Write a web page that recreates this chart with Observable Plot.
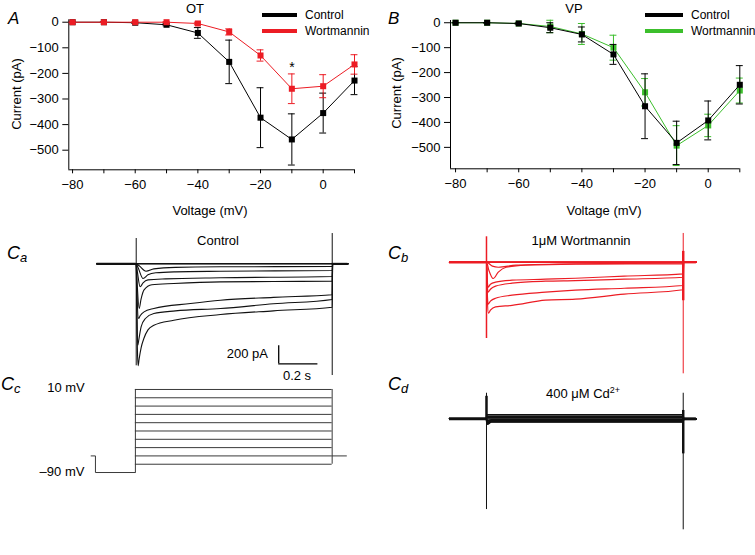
<!DOCTYPE html>
<html><head><meta charset="utf-8">
<script src="https://cdn.jsdelivr.net/npm/d3@7"></script>
<script src="https://cdn.jsdelivr.net/npm/@observablehq/plot@0.6"></script>
<style>
body{margin:0;background:#fff;}
#fig{position:relative;width:755px;height:555px;overflow:hidden;background:#fff;font-family:"Liberation Sans",Arial,Helvetica,sans-serif;color:#000;}
.panel{position:absolute;}
.panel svg{display:block;}
.iv g[aria-label$="tick label"]{font-size:13px;font-family:"Liberation Sans",Arial,Helvetica,sans-serif;}
.lbl{position:absolute;white-space:nowrap;line-height:1;}
.bar{position:absolute;}
</style></head><body><div id="fig"></div><script>
// ---------- I–V data (pA) ----------
const voltages = [-80,-70,-60,-50,-40,-30,-20,-10,0,10];
const xTickLabels = [-80,-60,-40,-20,0];
const yTicks = [0,-100,-200,-300,-400,-500];
const otControl    = [0,0,-2,-10,-42,-155,-373,-458,-355,-228];
const otControlErr = [0,0,2,4,21,85,117,100,78,55];
const otWort       = [0,0,0,0,-5,-38,-130,-260,-250,-165];
const otWortErr    = [0,0,0,2,5,12,22,58,45,38];
const otStar       = [-10];
const vpControl    = [0,0,-3,-20,-47,-127,-335,-482,-392,-249];
const vpControlErr = [0,0,2,20,30,40,130,87,78,77];
const vpWort       = [0,0,-3,-15,-45,-100,-279,-493,-412,-272];
const vpWortErr    = [0,0,2,25,42,50,55,80,45,50];

// ---------- current traces (t in ms, I in pA) ----------
const caT = [
  [0,1000],[0,1000],[0,1000],
  [0,15,50,90,200,430,1000],
  [0,10,35,60,100,200,430,1000],
  [0,6,20,35,60,150,430,1000],
  [0,5,15,25,40,80,192,430,700,1000],
  [0,4,12,20,40,90,277,430,700,1000],
  [0,3,8,14,25,47,90,200,430,700,1000],
  [0,3,6,10,15,25,39,60,90,192,430,700,1000]
];
const caI = [
  [0,0],[0,0],[0,0],
  [0,-22,-82,-56,-39,-33,-30],
  [0,-44,-163,-122,-100,-89,-82,-74],
  [0,-89,-255,-211,-178,-167,-155,-141],
  [0,-222,-496,-389,-289,-233,-219,-200,-196,-193],
  [0,-333,-607,-577,-533,-496,-441,-404,-372,-344],
  [0,-500,-904,-833,-699,-607,-552,-522,-496,-444,-396],
  [0,-444,-944,-1132,-1055,-932,-829,-733,-682,-626,-563,-522,-482]
];
const caSpikeOn = [281,-1132];
const caSpikeOff = [336,-1240];
const caScaleBar = {t:727, i:-1110, dt:200, di:200};

const cbT = [
  [0,1000],[0,1000],[0,1000],[0,1000],
  [0,30,60,150,452,1000],
  [0,12,34,60,100,200,452,1000],
  [0,4,8,20,46,130,300,452,700,1000],
  [0,4,8,20,46,130,300,452,700,1000],
  [0,4,8,20,46,130,300,452,700,1000],
  [0,4,10,20,46,130,300,452,700,1000]
];
const cbI = [
  [0,0],[0,0],[0,0],[0,0],
  [0,-44,-56,-33,-17,-11],
  [0,-89,-181,-111,-56,-33,-22,-18],
  [0,-200,-278,-244,-222,-200,-189,-178,-155,-129],
  [0,-244,-333,-300,-266,-233,-211,-205,-189,-167],
  [0,-333,-466,-433,-400,-366,-333,-311,-289,-259],
  [0,-389,-566,-533,-495,-480,-422,-411,-355,-306]
];
const cbSpikeOn = [282,-847];
const cbSpikeOff = [319,-1239];
const cbSpikeOffThick = [120,-428];

const cdT = [0,1,5,25,1000];
const cdI = [
  [0,45,45,45,45],[0,28,28,28,28],[0,12,12,12,12],[0,0,0,0,0],
  [0,-10,-15,-10,-10],[0,-17,-25,-17,-17],[0,-22,-35,-22,-22],
  [0,-28,-45,-28,-28],[0,-33,-55,-33,-33],[0,-38,-60,-36,-36]
];
const cdSpikeOn = [284,-1007];
const cdSpikeOnThick = [250,0];
const cdSpikeOff = [284,-1232];
const cdSpikeOffThick = [93,-389];

// ---------- voltage protocol (mV, ms) ----------
const protocolLevels = [-80,-70,-60,-50,-40,-30,-20,-10,0,10];
const holdingMv = -70, prepulseMv = -90;
const protoStart = -225, prepulseOn = -203, stepOn = 0, stepOff = 1000, protoEnd = 1077;

// ---------- helpers ----------
const FONT = '"Liberation Sans", Arial, Helvetica, sans-serif';
const RED = "#ec1c24", GREEN = "#3cbf2c", BLACK = "#000";
const fig = document.getElementById("fig");
const fmt = d3.format("d");

function addPanel(svg, left, topPx, w, h, cls = ""){
  const d = document.createElement("div");
  d.className = "panel " + cls;
  Object.assign(d.style, {left:left+"px", top:topPx+"px", width:w+"px", height:h+"px"});
  d.appendChild(svg); fig.appendChild(d);
}
function label(html, x, y, o = {}){
  const {size = 13, anchor = "middle", italic = false, rotate = 0} = o;
  const d = document.createElement("div");
  d.className = "lbl"; d.innerHTML = html;
  d.style.fontSize = size + "px";
  if (italic) d.style.fontStyle = "italic";
  d.style.left = x + "px"; d.style.top = y + "px";
  const tx = anchor === "middle" ? "-50%" : anchor === "end" ? "-100%" : "0";
  d.style.transform = `translate(${tx},-50%)` + (rotate ? ` rotate(${rotate}deg)` : "");
  fig.appendChild(d);
}
function legendLine(x1, x2, y, color){
  const d = document.createElement("div");
  d.className = "bar";
  Object.assign(d.style, {left:x1+"px", top:(y-2)+"px", width:(x2-x1)+"px", height:"4px", background:color});
  fig.appendChild(d);
}
function rows(m, e){ return voltages.map((v,k)=>({v, m:m[k], e:e[k]})); }
function seriesMarks(data, color){
  return [
    Plot.ruleX(data, {x:"v", y1:d=>d.m-d.e, y2:d=>d.m+d.e, stroke:color, strokeWidth:1}),
    Plot.ruleY(data, {y:d=>d.m+d.e, x1:d=>d.v-1.1, x2:d=>d.v+1.1, stroke:color, strokeWidth:1}),
    Plot.ruleY(data, {y:d=>d.m-d.e, x1:d=>d.v-1.1, x2:d=>d.v+1.1, stroke:color, strokeWidth:1}),
    Plot.line(data, {x:"v", y:"m", stroke:color, strokeWidth:1}),
    Plot.dot(data, {x:"v", y:"m", symbol:"square", r:3.4, fill:color})
  ];
}
function ivPlot({first, second, xDomain, yDomain, width, height, mL, mR, mT, mB, extra = []}){
  return Plot.plot({
    width, height, marginLeft:mL, marginRight:mR, marginTop:mT, marginBottom:mB,
    style:{background:"transparent", fontFamily:FONT, fontSize:"13px", overflow:"visible", color:"#000"},
    x:{domain:xDomain}, y:{domain:yDomain},
    marks:[
      Plot.ruleX([xDomain[0]], {stroke:"#000", strokeWidth:1}),
      Plot.ruleY([yDomain[0]], {stroke:"#000", strokeWidth:1}),
      Plot.axisY({ticks:yTicks, tickSize:6, tickPadding:4, label:null, tickFormat:fmt, fontSize:13}),
      Plot.axisX({ticks:voltages, tickSize:4, tickPadding:6, label:null, fontSize:13,
        tickFormat:d=>xTickLabels.includes(d) ? fmt(d) : ""}),
      ...first, ...second, ...extra
    ]
  });
}
function traceRows(T, I, tStart, tEnd){
  const out = [];
  T.forEach((ts, k) => {
    out.push({k, t:tStart, i:0});
    ts.forEach((t, j) => out.push({k, t, i:I[k][j]}));
    out.push({k, t:stepOff + 2, i:0});
    out.push({k, t:tEnd, i:0});
  });
  return out;
}
function tracePlot({data, color, xDomain, yDomain, width, height, mL, mR, sw, baseW, extra}){
  return Plot.plot({
    width, height, marginLeft:mL, marginRight:mR, marginTop:0, marginBottom:0,
    style:{background:"transparent", overflow:"visible"},
    x:{domain:xDomain, axis:null}, y:{domain:yDomain, axis:null},
    marks:[
      Plot.ruleY([0], {x1:xDomain[0], x2:stepOn, stroke:color, strokeWidth:baseW}),
      Plot.ruleY([0], {x1:stepOff, x2:xDomain[1], stroke:color, strokeWidth:baseW}),
      Plot.line(data, {x:"t", y:"i", z:"k", stroke:color, strokeWidth:sw, curve:"monotone-x"}),
      ...extra
    ]
  });
}

// ---------- Panel A ----------
const plotA = ivPlot({
  first: seriesMarks(rows(otControl, otControlErr), BLACK),
  second: seriesMarks(rows(otWort, otWortErr), RED),
  xDomain:[-81.2, 10], yDomain:[-576.6, 9.4],
  width:378, height:225, mL:68.3, mR:24, mT:19.3, mB:55.7,
  extra:[Plot.text(otStar, {x:d=>d, y:d=>otWort[voltages.indexOf(d)] + otWortErr[voltages.indexOf(d)],
          text:()=>"*", dy:-6, fontSize:14, fill:"#000"})]
});
addPanel(plotA, 0, 0, 378, 225, "iv");

// ---------- Panel B ----------
const plotB = ivPlot({
  first: seriesMarks(rows(vpWort, vpWortErr), GREEN),
  second: seriesMarks(rows(vpControl, vpControlErr), BLACK),
  xDomain:[-81.6, 10], yDomain:[-586, 9],
  width:375, height:225, mL:70, mR:15.7, mT:20, mB:56.7
});
addPanel(plotB, 380, 0, 375, 225, "iv");

// ---------- Panel Ca ----------
const plotCa = tracePlot({
  data: traceRows(caT, caI, -200, 1080), color:"#111", sw:1.1, baseW:2,
  xDomain:[-200,1080], yDomain:[-1273,392], width:265, height:150, mL:6.5, mR:7.6,
  extra:[
    Plot.ruleX([stepOn], {y1:caSpikeOn[0], y2:caSpikeOn[1], stroke:"#111", strokeWidth:1}),
    Plot.ruleX([stepOff], {y1:caSpikeOff[0], y2:caSpikeOff[1], stroke:"#111", strokeWidth:1}),
    Plot.ruleX([caScaleBar.t], {y1:caScaleBar.i, y2:caScaleBar.i + caScaleBar.di, stroke:"#000", strokeWidth:1.3}),
    Plot.ruleY([caScaleBar.i], {x1:caScaleBar.t, x2:caScaleBar.t + caScaleBar.dt, stroke:"#000", strokeWidth:1.3})
  ]
});
addPanel(plotCa, 90, 228, 265, 150);

// ---------- Panel Cb ----------
const plotCb = tracePlot({
  data: traceRows(cbT, cbI, -188, 1067), color:RED, sw:1.2, baseW:2.4,
  xDomain:[-188,1067], yDomain:[-1291,374], width:255, height:150, mL:4, mR:4.1,
  extra:[
    Plot.ruleX([stepOn], {y1:cbSpikeOn[0], y2:cbSpikeOn[1], stroke:RED, strokeWidth:1.5}),
    Plot.ruleX([stepOff], {y1:cbSpikeOff[0], y2:cbSpikeOff[1], stroke:RED, strokeWidth:1}),
    Plot.ruleX([stepOff], {y1:cbSpikeOffThick[0], y2:cbSpikeOffThick[1], stroke:RED, strokeWidth:2.5})
  ]
});
addPanel(plotCb, 445, 228, 255, 150);

// ---------- Panel Cd ----------
const plotCd = tracePlot({
  data: traceRows(cdI.map(() => cdT), cdI, -188, 1067), color:"#111", sw:1.4, baseW:3,
  xDomain:[-188,1067], yDomain:[-1295,370], width:255, height:150, mL:4, mR:4.1,
  extra:[
    Plot.ruleX([stepOn], {y1:cdSpikeOn[0], y2:cdSpikeOn[1], stroke:"#111", strokeWidth:1}),
    Plot.ruleX([stepOn], {y1:cdSpikeOnThick[0], y2:cdSpikeOnThick[1], stroke:"#111", strokeWidth:2.5}),
    Plot.ruleX([stepOff], {y1:cdSpikeOff[0], y2:cdSpikeOff[1], stroke:"#111", strokeWidth:1}),
    Plot.ruleX([stepOff], {y1:cdSpikeOffThick[0], y2:cdSpikeOffThick[1], stroke:"#111", strokeWidth:2.5})
  ]
});
addPanel(plotCd, 445, 385, 255, 150);

// ---------- Panel Cc (protocol) ----------
const PC = "#3a3a3a";
const holdPath = [
  {t:protoStart, v:holdingMv}, {t:prepulseOn, v:holdingMv},
  {t:prepulseOn, v:prepulseMv}, {t:stepOn, v:prepulseMv}
];
const vTop = d3.max(protocolLevels), vBottom = d3.min(protocolLevels);
const plotCc = Plot.plot({
  width:270, height:100, marginLeft:5.62, marginRight:7.6, marginTop:0, marginBottom:0,
  style:{background:"transparent", overflow:"visible"},
  x:{domain:[protoStart, 1080], axis:null}, y:{domain:[-99.6, 20.8], axis:null},
  marks:[
    Plot.ruleY(protocolLevels, {y:d=>d, x1:stepOn, x2:stepOff, stroke:PC, strokeWidth:1}),
    Plot.line(holdPath, {x:"t", y:"v", stroke:PC, strokeWidth:1}),
    Plot.ruleX([stepOn], {y1:prepulseMv, y2:vTop, stroke:PC, strokeWidth:1}),
    Plot.ruleX([stepOff], {y1:vBottom, y2:vTop, stroke:PC, strokeWidth:1}),
    Plot.ruleY([holdingMv], {x1:stepOff, x2:protoEnd, stroke:PC, strokeWidth:1})
  ]
});
addPanel(plotCc, 85, 380, 270, 100);

// ---------- text ----------
label("A", 8, 18, {size:17, italic:true, anchor:"start"});
label("B", 388, 18, {size:17, italic:true, anchor:"start"});
label("OT", 195, 8);
label("VP", 574, 8);
label("Voltage (mV)", 210, 210);
label("Voltage (mV)", 604, 210);
label("Current (pA)", 16, 94, {rotate:-90});
label("Current (pA)", 396, 93, {rotate:-90});
legendLine(262, 297, 15, BLACK); label("Control", 305, 15, {size:12, anchor:"start"});
legendLine(262, 297, 31, RED);   label("Wortmannin", 305, 31, {size:12, anchor:"start"});
legendLine(645, 683, 15, BLACK); label("Control", 691, 15, {size:12, anchor:"start"});
legendLine(645, 683, 31, GREEN); label("Wortmannin", 691, 31, {size:12, anchor:"start"});

const sub = s => `<i>C</i><sub style="font-size:13px;vertical-align:-0.3em;font-style:italic">${s}</sub>`;
label(sub("a"), 7, 254, {size:18, anchor:"start"});
label(sub("b"), 388, 254, {size:18, anchor:"start"});
label(sub("c"), 1, 385, {size:18, anchor:"start"});
label(sub("d"), 388, 385, {size:18, anchor:"start"});

label("Control", 218, 240);
label("1\u03bcM Wortmannin", 581, 240);
label("400 \u03bcM Cd<sup style=\"font-size:9px;vertical-align:0.45em\">2+</sup>", 583, 393);
label("200 pA", 268, 353, {anchor:"end"});
label("0.2 s", 297, 375);
label("10 mV", 66, 387);
label("\u201390 mV", 62, 471);
</script></body></html>
